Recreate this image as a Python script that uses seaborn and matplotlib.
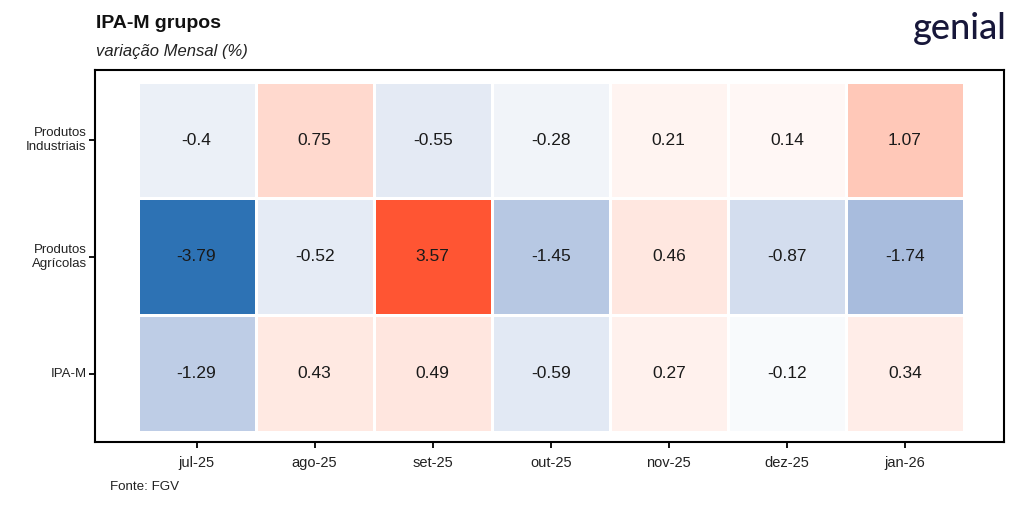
import numpy as np
import pandas as pd
import seaborn as sns
import matplotlib.pyplot as plt
from matplotlib.colors import LinearSegmentedColormap, TwoSlopeNorm

meses = ['jul-25', 'ago-25', 'set-25', 'out-25', 'nov-25', 'dez-25', 'jan-26']
grupos = ['Produtos\nIndustriais', 'Produtos\nAgrícolas', 'IPA-M']
industriais = [-0.4, 0.75, -0.55, -0.28, 0.21, 0.14, 1.07]
agricolas = [-3.79, -0.52, 3.57, -1.45, 0.46, -0.87, -1.74]
ipa_m = [-1.29, 0.43, 0.49, -0.59, 0.27, -0.12, 0.34]

df = pd.DataFrame([industriais, agricolas, ipa_m], index=grupos, columns=meses)
labels = df.map(lambda v: f'{v:g}').values

sns.set_style('white')
plt.rcParams['font.family'] = ['Liberation Sans', 'DejaVu Sans']

# azul -> branco -> laranja/vermelho (tons intermediarios mais "lavanda")
cmap = LinearSegmentedColormap.from_list('div', [
    (0.0, '#2d72b4'), (0.27, '#a8bcdd'), (0.5, '#ffffff'),
    (0.65, '#ffc8b8'), (1.0, '#ff5533')])
norm = TwoSlopeNorm(vmin=-3.79, vcenter=0, vmax=3.57)

fig = plt.figure(figsize=(10.24, 5.12), dpi=100)
ax = fig.add_axes([0.0928, 0.1367, 0.8877, 0.7266])
sns.heatmap(df, annot=labels, fmt='', cmap=cmap, norm=norm, cbar=False,
            linewidths=2, linecolor='white', ax=ax,
            annot_kws={'fontsize': 12.5, 'color': '#1a1a1a'})

ax.set_xlim(-0.36, 7.34)
ax.set_ylim(3.085, -0.1)
for s in ax.spines.values():
    s.set_visible(True)
    s.set_color('black')
    s.set_linewidth(1.5)
ax.tick_params(axis='both', length=4, width=1.3, color='black', direction='out',
               bottom=True, left=True)
ax.tick_params(axis='x', labelsize=10.5, labelcolor='#222222', pad=6)
ax.tick_params(axis='y', labelsize=9.5, labelcolor='#222222', pad=2)
ax.set_yticklabels(grupos, rotation=0, ha='right')
ax.set_xticklabels(meses, rotation=0)
ax.set_xlabel('')
ax.set_ylabel('')

fig.text(0.094, 0.955, 'IPA-M grupos', fontsize=14, fontweight='bold', va='center', color='#111111')
fig.text(0.094, 0.900, 'variação Mensal (%)', fontsize=12, style='italic', va='center', color='#222222')
fig.text(0.107, 0.049, 'Fonte: FGV', fontsize=9.6, va='center', color='#222222')
fig.text(0.983, 0.945, 'genial', fontsize=26, ha='right', va='center', color='#17173a',
         family=['Lato', 'DejaVu Sans'], fontweight='medium')

fig.savefig('out.png', dpi=100)
